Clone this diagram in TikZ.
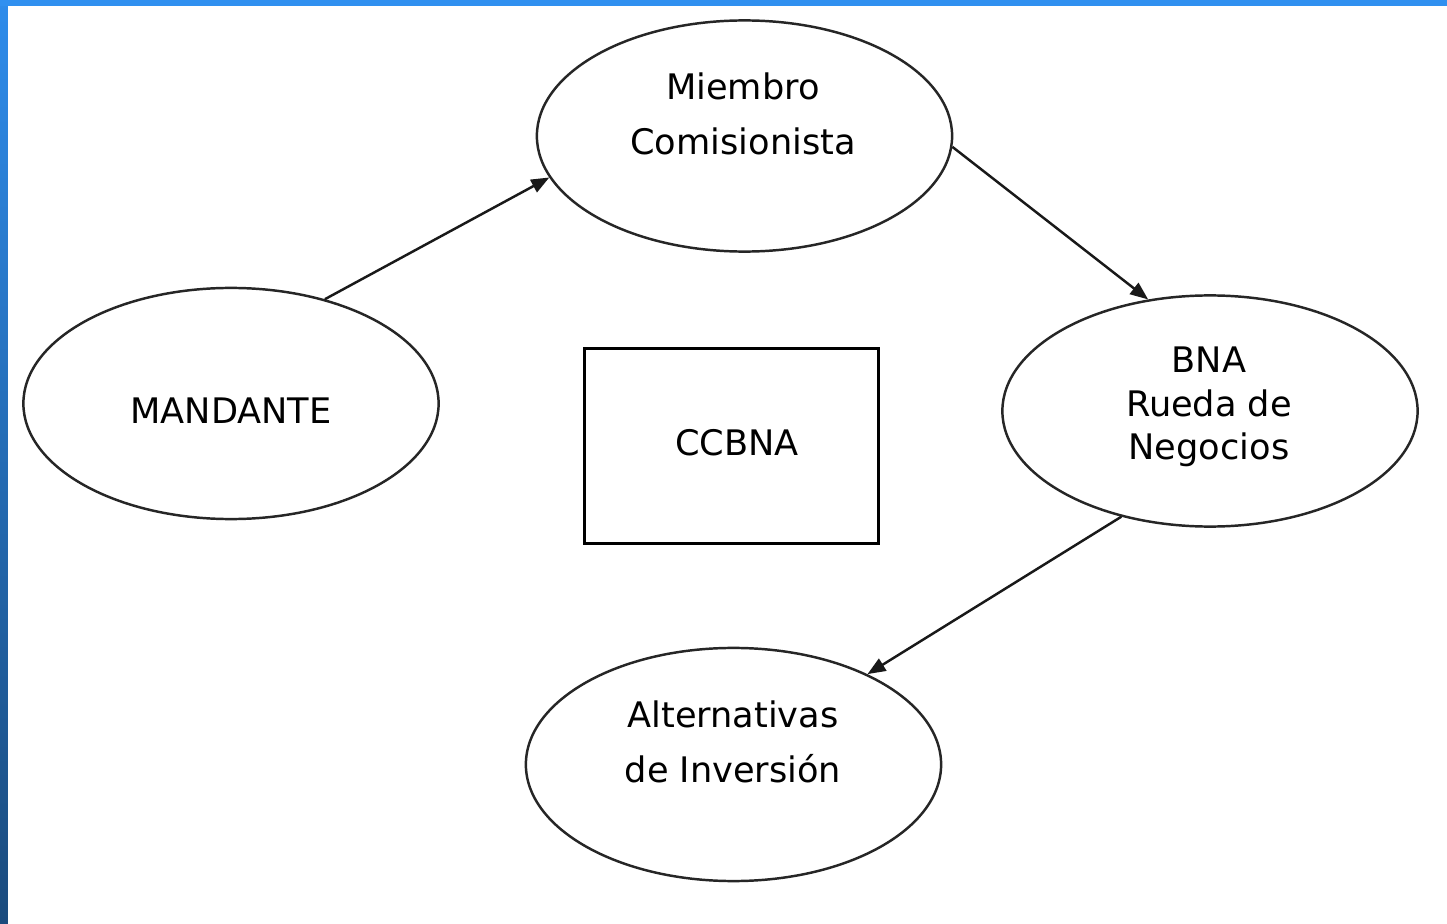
\documentclass[tikz,border=0pt]{standalone}
\usepackage{fontspec}
\setsansfont{DejaVu Sans}
\usetikzlibrary{arrows.meta,shapes.geometric}
\definecolor{slideblue}{HTML}{3090F0}
\definecolor{slidetop}{HTML}{2E8CEB}
\definecolor{slidemid}{HTML}{2170C4}
\definecolor{slidebottom}{HTML}{1B4B7D}

\begin{document}
\begin{tikzpicture}[
    x=0.01cm, y=-0.01cm,
    >={Triangle[length=0.18cm,width=0.14cm]},
    every node/.style={font=\sffamily\fontsize{10}{15.6}\selectfont},
    actor/.style={draw=black!85, line width=0.7pt, ellipse, inner sep=0pt,
        minimum width=4.15cm, minimum height=2.31cm},
    txt/.style={align=center, inner sep=0pt},
    flow/.style={->, black!90, line width=0.7pt}
]
    % Slide background and blue frame
    \useasboundingbox (0,0) rectangle (1447,924);
    \fill[white] (0,0) rectangle (1447,924);
    \shade[top color=slidetop, middle color=slidemid, bottom color=slidebottom] (0,0) rectangle (8,924);
    \fill[slideblue] (0,0) rectangle (1447,6);

    % Participants (ellipses)
    \node[actor] (miembro) at (744.5,136) {};
    \node[actor] (mandante) at (231,403.5) {};
    \node[actor] (bna) at (1210,411) {};
    \node[actor, minimum height=2.33cm] (alternativas) at (733.5,764.5) {};

    % Central box
    \node[draw=black, line width=0.9pt, minimum width=2.94cm, minimum height=1.95cm, inner sep=0pt] (ccbna) at (731.5,446) {};

    % Labels
    \node[txt] (miembrotxt) at (743,114) {Miembro\\Comisionista};
    \node[txt] (mandantetxt) at (231,411) {MANDANTE};
    \node[txt, font=\sffamily\fontsize{10}{12.4}\selectfont] (bnatxt) at (1209,407) {BNA\\Rueda de\\Negocios};
    \node[txt] (alternativastxt) at (733,742) {Alternativas\\de Inversión};
    \node[txt] (ccbnatxt) at (737,443) {CCBNA};

    % Flow of the order
    \draw[flow] (mandante.48) -- (miembro.192);
    \draw[flow] (miembro.357) -- (bna.119);
    \draw[flow] (bna.230) -- (alternativas.34.5);
\end{tikzpicture}
\end{document}
